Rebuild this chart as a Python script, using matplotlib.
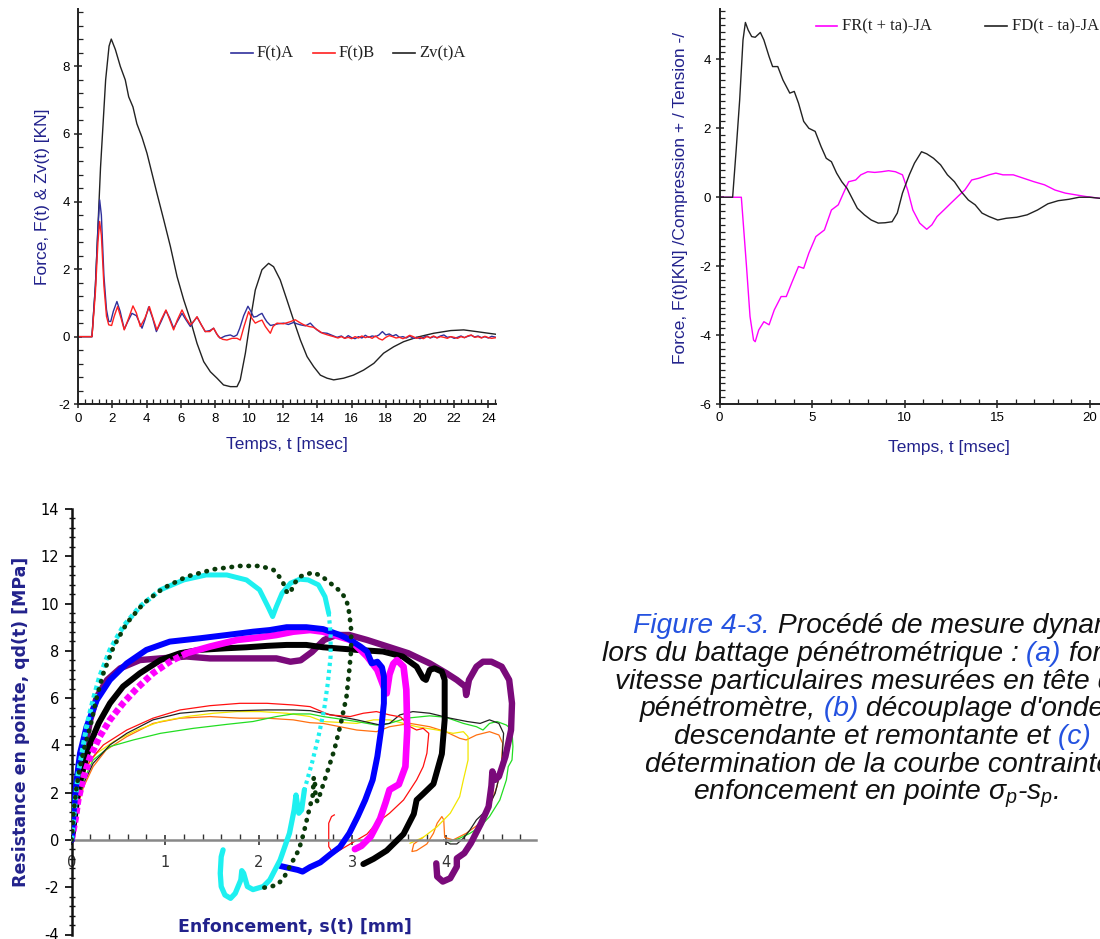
import matplotlib
matplotlib.use("Agg")
import matplotlib.pyplot as plt
from matplotlib.lines import Line2D
from matplotlib.ticker import MultipleLocator

# ---------------- data : panel (a) ----------------
FA = [(0, 0), (0.8, 0), (1.0, 1.5), (1.15, 3.2), (1.25, 4.05), (1.35, 3.6), (1.5, 1.8), (1.65, 0.8),
      (1.78, 0.45), (1.9, 0.45), (2.05, 0.75), (2.26, 1.04), (2.45, 0.75), (2.69, 0.22), (2.9, 0.45),
      (3.14, 0.69), (3.4, 0.62), (3.73, 0.25), (3.9, 0.5), (4.12, 0.88), (4.35, 0.55), (4.57, 0.15),
      (4.85, 0.45), (5.13, 0.77), (5.35, 0.55), (5.58, 0.25), (5.8, 0.45), (6.07, 0.69), (6.3, 0.5),
      (6.56, 0.3), (6.75, 0.45), (6.95, 0.58), (7.2, 0.35), (7.43, 0.15), (7.7, 0.18), (7.92, 0.25),
      (8.1, 0.08), (8.31, -0.05), (8.6, 0.02), (8.9, 0.05), (9.1, 0.0), (9.29, 0.05), (9.45, 0.25),
      (9.68, 0.62), (9.93, 0.9), (10.1, 0.75), (10.26, 0.58), (10.45, 0.6), (10.56, 0.64), (10.75, 0.69),
      (10.9, 0.55), (11.04, 0.44), (11.25, 0.33), (11.43, 0.35), (11.7, 0.38), (12.02, 0.4), (12.3, 0.36),
      (12.6, 0.42), (12.8, 0.38), (13.0, 0.35), (13.3, 0.32), (13.58, 0.4), (13.8, 0.28), (13.97, 0.2),
      (14.2, 0.12), (14.56, 0.1), (14.8, 0.05), (15.14, -0.02), (15.4, 0.02), (15.6, -0.05), (15.8, 0.03),
      (16.0, -0.03), (16.2, -0.06), (16.4, 0.0), (16.6, -0.04), (16.8, 0.04), (17.0, -0.02), (17.2, 0.02),
      (17.4, 0.0), (17.6, 0.05), (17.8, 0.15), (18.0, 0.05), (18.2, 0.08), (18.4, 0.02), (18.6, 0.06),
      (18.8, -0.02), (19.0, 0.0), (19.2, -0.04), (19.4, 0.02), (19.6, -0.05), (19.8, -0.02), (20.0, -0.06),
      (20.2, -0.02), (20.4, 0.02), (20.6, -0.04), (20.8, 0.0), (21.0, -0.03), (21.2, 0.02), (21.4, 0.05),
      (21.6, -0.02), (21.8, 0.0), (22.0, -0.05), (22.2, -0.02), (22.4, 0.02), (22.6, -0.03), (22.8, 0.01),
      (23.0, 0.04), (23.2, -0.01), (23.4, 0.02), (23.6, -0.03), (23.8, 0.0), (24.0, -0.04), (24.2, 0.01),
      (24.45, -0.02)]

FB = [(0, 0), (0.8, 0), (1.0, 1.3), (1.15, 2.8), (1.25, 3.41), (1.35, 3.0), (1.5, 1.5), (1.65, 0.6),
      (1.78, 0.35), (1.95, 0.33), (2.1, 0.6), (2.3, 0.89), (2.5, 0.55), (2.69, 0.2), (2.95, 0.55),
      (3.2, 0.91), (3.4, 0.7), (3.63, 0.3), (3.9, 0.55), (4.16, 0.89), (4.4, 0.5), (4.6, 0.2), (4.85, 0.5),
      (5.13, 0.79), (5.35, 0.5), (5.58, 0.2), (5.8, 0.5), (6.07, 0.79), (6.3, 0.55), (6.56, 0.35),
      (6.75, 0.45), (6.95, 0.59), (7.2, 0.35), (7.43, 0.15), (7.7, 0.15), (7.92, 0.25), (8.2, 0.0),
      (8.45, -0.08), (8.7, -0.1), (9.0, -0.05), (9.29, -0.05), (9.48, -0.1), (9.7, 0.3), (9.97, 0.74),
      (10.15, 0.55), (10.36, 0.4), (10.55, 0.45), (10.75, 0.49), (10.95, 0.3), (11.24, 0.1), (11.4, 0.3),
      (11.63, 0.4), (12.0, 0.38), (12.4, 0.44), (12.7, 0.5), (12.95, 0.42), (13.2, 0.35), (13.5, 0.3),
      (13.75, 0.28), (14.0, 0.2), (14.3, 0.1), (14.6, 0.05), (14.95, 0.0), (15.2, -0.04), (15.4, 0.0),
      (15.6, -0.05), (15.8, -0.02), (16.0, -0.06), (16.2, 0.0), (16.4, -0.04), (16.6, 0.02), (16.8, -0.03),
      (17.0, 0.0), (17.2, -0.05), (17.4, 0.02), (17.6, -0.06), (17.8, -0.1), (18.0, -0.02), (18.2, 0.03),
      (18.4, 0.0), (18.6, -0.04), (18.8, -0.02), (19.0, -0.06), (19.2, -0.02), (19.4, 0.04), (19.6, 0.0),
      (19.8, -0.05), (20.0, -0.02), (20.2, -0.06), (20.4, 0.0), (20.6, -0.03), (20.8, 0.02), (21.0, -0.04),
      (21.2, 0.0), (21.4, -0.02), (21.6, -0.05), (21.8, 0.0), (22.0, -0.02), (22.2, -0.05), (22.4, 0.0),
      (22.6, -0.03), (22.8, 0.02), (23.0, 0.05), (23.2, -0.02), (23.4, 0.0), (23.6, -0.04), (23.8, 0.01),
      (24.0, -0.03), (24.2, -0.05), (24.45, -0.03)]

ZV = [(0, 0), (0.8, 0), (1.0, 1.5), (1.3, 5.0), (1.6, 7.6), (1.8, 8.6), (1.93, 8.81), (2.17, 8.5),
      (2.46, 8.0), (2.75, 7.6), (2.95, 7.1), (3.2, 6.8), (3.43, 6.3), (3.73, 5.9), (4.02, 5.43),
      (4.31, 4.84), (4.6, 4.25), (5.0, 3.46), (5.39, 2.67), (5.78, 1.78), (6.17, 1.09), (6.56, 0.49),
      (6.95, -0.2), (7.34, -0.74), (7.73, -1.04), (8.12, -1.23), (8.5, -1.43), (8.9, -1.48), (9.29, -1.48),
      (9.48, -1.28), (9.78, -0.49), (10.07, 0.49), (10.36, 1.38), (10.75, 1.98), (11.14, 2.17),
      (11.43, 2.07), (11.82, 1.68), (12.21, 1.09), (12.6, 0.49), (13.0, -0.1), (13.39, -0.59),
      (13.78, -0.89), (14.17, -1.14), (14.56, -1.23), (14.95, -1.28), (15.53, -1.23), (16.1, -1.14),
      (16.7, -0.99), (17.3, -0.79), (17.87, -0.49), (18.46, -0.30), (19.04, -0.15), (19.8, -0.02),
      (20.8, 0.1), (21.8, 0.18), (22.56, 0.2), (23.3, 0.15), (24.45, 0.07)]
labels_a = ["F(t)A", "F(t)B", "Zv(t)A"]

# ---------------- data : panel (b) ----------------
FR = [(0, 0), (1.18, 0), (1.46, -2.01), (1.65, -3.46), (1.84, -4.14), (1.93, -4.19), (2.12, -3.85),
      (2.4, -3.61), (2.68, -3.70), (2.96, -3.27), (3.33, -2.88), (3.61, -2.88), (3.9, -2.49), (4.27, -2.01),
      (4.55, -2.06), (4.83, -1.62), (5.21, -1.14), (5.67, -0.95), (6.05, -0.37), (6.42, -0.22), (6.7, 0.12),
      (6.98, 0.45), (7.36, 0.5), (7.64, 0.65), (8.01, 0.74), (8.39, 0.72), (8.76, 0.74), (9.14, 0.77),
      (9.51, 0.74), (9.89, 0.65), (10.17, 0.21), (10.45, -0.37), (10.82, -0.75), (11.2, -0.93),
      (11.48, -0.8), (11.76, -0.56), (12.13, -0.37), (12.51, -0.17), (12.88, 0.02), (13.26, 0.21),
      (13.63, 0.5), (14.01, 0.55), (14.57, 0.65), (14.94, 0.70), (15.32, 0.65), (15.88, 0.65),
      (16.44, 0.55), (17.0, 0.45), (17.57, 0.36), (18.13, 0.21), (18.69, 0.12), (19.25, 0.07),
      (19.81, 0.02), (20.56, -0.03), (21.2, -0.02), (22.0, -0.03)]
FD = [(0, 0), (0.71, 0), (0.9, 1.37), (1.09, 2.82), (1.27, 4.56), (1.40, 5.07), (1.55, 4.85), (1.74, 4.66),
      (1.93, 4.64), (2.21, 4.78), (2.4, 4.56), (2.68, 4.08), (2.87, 3.79), (3.15, 3.79), (3.43, 3.40),
      (3.8, 3.02), (4.04, 3.07), (4.27, 2.73), (4.55, 2.2), (4.83, 2.0), (5.17, 1.91), (5.49, 1.47),
      (5.77, 1.13), (6.05, 1.03), (6.33, 0.70), (6.61, 0.45), (6.89, 0.26), (7.17, -0.03), (7.45, -0.32),
      (7.83, -0.51), (8.2, -0.66), (8.58, -0.75), (8.95, -0.74), (9.33, -0.71), (9.61, -0.46), (9.89, 0.12),
      (10.26, 0.65), (10.54, 0.99), (10.92, 1.32), (11.2, 1.26), (11.57, 1.13), (11.95, 0.94),
      (12.32, 0.65), (12.7, 0.45), (13.07, 0.16), (13.45, -0.08), (13.82, -0.22), (14.19, -0.46),
      (14.57, -0.56), (15.04, -0.66), (15.5, -0.61), (16.07, -0.58), (16.63, -0.51), (17.19, -0.37),
      (17.75, -0.19), (18.31, -0.1), (18.88, -0.06), (19.44, 0), (20.0, 0), (20.56, -0.03), (21.2, -0.02),
      (22.0, -0.03)]
labels_b = ["FR(t + ta)-JA", "FD(t - ta)-JA"]

# ---------------- data : panel (c)  (s [mm], qd [MPa]) ----------------
DGREEN = [(0, 0), (0.02, 1.13), (0.054, 2.26), (0.09, 3.1), (0.14, 3.95), (0.2, 4.8), (0.27, 6.06),
          (0.34, 7.05), (0.45, 8.18), (0.59, 9.17), (0.77, 10.01), (0.98, 10.65), (1.23, 11.14),
          (1.52, 11.45), (1.8, 11.59), (2.02, 11.59), (2.16, 11.42), (2.25, 11.0), (2.3, 10.5),
          (2.34, 10.43), (2.37, 10.79), (2.44, 11.14), (2.55, 11.28), (2.59, 11.31), (2.68, 11.14),
          (2.79, 10.79), (2.88, 10.5), (2.94, 10.15), (2.97, 9.59), (2.99, 8.88), (2.99, 8.04), (2.97, 7.19),
          (2.94, 6.06), (2.88, 4.94), (2.81, 3.81), (2.73, 2.82), (2.66, 1.97), (2.63, 1.62), (2.61, 1.75),
          (2.60, 2.6), (2.59, 2.65), (2.58, 1.9), (2.53, 1.1), (2.48, 0.25), (2.43, -0.42), (2.35, -1.0),
          (2.27, -1.6), (2.2, -1.9), (2.1, -2.0), (2.05, -2.02)]
CYAN = [(0, 0), (0.02, 0.85), (0.04, 1.69), (0.07, 2.82), (0.11, 3.67), (0.16, 4.79), (0.23, 5.92),
        (0.3, 6.91), (0.41, 8.04), (0.55, 9.02), (0.73, 9.87), (0.95, 10.58),
        (1.2, 11.0), (1.44, 11.21), (1.66, 11.21), (1.87, 11.0), (2.01, 10.58), (2.1, 9.87), (2.15, 9.45),
        (2.19, 9.87), (2.25, 10.43), (2.34, 10.86), (2.44, 11.03), (2.53, 11.0), (2.64, 10.79),
        (2.71, 10.29), (2.75, 9.59),
        (2.77, 8.74), (2.77, 7.76), (2.74, 6.63), (2.7, 5.5), (2.64, 4.37), (2.57, 3.24), (2.49, 2.12),
        (2.46, 1.27), (2.43, 1.13), (2.4, 1.9), (2.38, 1.27), (2.33, 0.28), (2.23, -0.85), (2.12, -1.69),
        (2.05, -1.97), (1.94, -2.1), (1.88, -1.97), (1.84, -1.41), (1.82, -1.3), (1.81, -1.69),
        (1.75, -2.26), (1.7, -2.47), (1.64, -2.33), (1.6, -1.97), (1.59, -1.41), (1.6, -0.71), (1.62, -0.42)]
BLUE = [(0, 0), (0.02, 1.13), (0.054, 2.54), (0.09, 3.67), (0.16, 4.79), (0.27, 5.92), (0.41, 6.77),
        (0.59, 7.47), (0.8, 8.04), (1.05, 8.39), (1.37, 8.53), (1.66, 8.67), (1.94, 8.81), (2.12, 8.88),
        (2.3, 9.0), (2.51, 9.0), (2.69, 8.92), (2.87, 8.67), (2.98, 8.46), (3.09, 8.18), (3.16, 7.97),
        (3.21, 7.47), (3.27, 7.54), (3.32, 7.3), (3.34, 6.91), (3.34, 5.78), (3.31, 4.65), (3.27, 3.53),
        (3.22, 2.54), (3.14, 1.69), (3.06, 0.99), (2.97, 0.28), (2.87, -0.3), (2.77, -0.6), (2.66, -0.95),
        (2.55, -1.15), (2.47, -1.34), (2.42, -1.27), (2.34, -1.2), (2.23, -1.1)]
MAGENTA = [(0, 0), (0.04, 0.85), (0.07, 1.69), (0.13, 2.68), (0.2, 3.53), (0.3, 4.37), (0.41, 5.08),
           (0.55, 5.78), (0.7, 6.42), (0.87, 7.05), (1.05, 7.54), (1.23, 7.9),
           (1.48, 8.18), (1.77, 8.46), (2.01, 8.57), (2.19, 8.67), (2.37, 8.81), (2.55, 8.88), (2.69, 8.81),
           (2.98, 8.46), (3.16, 7.76), (3.27, 7.19), (3.35, 6.35), (3.37, 6.2), (3.4, 7.0), (3.44, 7.45),
           (3.48, 7.61), (3.55, 7.33), (3.58, 6.35), (3.59, 4.65), (3.57, 3.1), (3.5, 2.35), (3.4, 2.12),
           (3.36, 1.6), (3.3, 0.9), (3.2, 0.15), (3.1, -0.25), (3.03, -0.39)]
BLACK = [(0, 0), (0.04, 1.13), (0.07, 2.12), (0.13, 3.1), (0.2, 4.09), (0.29, 4.94), (0.41, 5.78),
         (0.55, 6.49), (0.73, 7.05), (0.95, 7.61), (1.16, 7.9), (1.37, 8.04), (1.66, 8.11), (1.87, 8.15),
         (2.09, 8.21), (2.3, 8.25), (2.51, 8.25), (2.69, 8.15), (3.05, 8.04), (3.33, 7.97), (3.54, 7.76),
         (3.69, 7.33), (3.76, 6.84), (3.79, 6.77), (3.83, 7.19), (3.88, 7.26), (3.96, 7.12), (3.99, 6.77),
         (3.99, 5.08), (3.96, 3.64), (3.87, 2.37), (3.76, 1.95), (3.69, 1.69), (3.66, 1.1), (3.55, 0.25),
         (3.37, -0.45), (3.23, -0.8), (3.12, -1.02)]
PURPLE = [(0, 0), (0.04, 1.41), (0.07, 2.54), (0.13, 3.67), (0.2, 5.08), (0.27, 6.06), (0.38, 6.77),
          (0.52, 7.26), (0.73, 7.61), (0.95, 7.68), (1.23, 7.76), (1.48, 7.68), (1.77, 7.68), (2.01, 7.68),
          (2.19, 7.68), (2.34, 7.54), (2.45, 7.6), (2.57, 7.95), (2.7, 8.46), (2.83, 8.67), (2.97, 8.67),
          (3.16, 8.46), (3.38, 8.18), (3.6, 7.9), (3.83, 7.47), (4.01, 7.05), (4.12, 6.77), (4.21, 6.49),
          (4.22, 6.13), (4.25, 6.77), (4.33, 7.33), (4.4, 7.54), (4.49, 7.54), (4.6, 7.33), (4.68, 6.77),
          (4.71, 5.78), (4.7, 4.65), (4.64, 3.53), (4.57, 2.68), (4.53, 2.54), (4.5, 2.9), (4.49, 2.3),
          (4.46, 1.41), (4.38, 0.71), (4.27, -0.14), (4.2, -0.56), (4.12, -0.78), (4.12, -1.13),
          (4.05, -1.62), (3.97, -1.76), (3.91, -1.55), (3.9, -0.99)]
THIN_RED = [(0, 0), (0.02, 1.41), (0.09, 2.54), (0.2, 3.38), (0.34, 4.02), (0.59, 4.65), (0.87, 5.15),
            (1.16, 5.5), (1.48, 5.68), (1.8, 5.78), (2.09, 5.78), (2.37, 5.71), (2.55, 5.64), (2.76, 5.29),
            (2.98, 5.22), (3.12, 5.36), (3.26, 5.43), (3.4, 5.29), (3.52, 5.2), (3.62, 4.79), (3.69, 4.65),
            (3.76, 4.72), (3.82, 4.51), (3.8, 3.67), (3.76, 3.1), (3.69, 2.54), (3.55, 1.69), (3.4, 1.13),
            (3.26, 0.71), (3.16, 0.25), (2.98, -0.17), (2.8, -0.59), (2.75, -0.28), (2.75, 0.71),
            (2.78, 0.99), (2.81, 1.06)]
THIN_BLACK = [(0, 0), (0.05, 1.41), (0.13, 2.4), (0.23, 3.24), (0.41, 4.02), (0.59, 4.51), (0.87, 5.08),
              (1.16, 5.36), (1.48, 5.47), (1.8, 5.47), (2.09, 5.5), (2.37, 5.5), (2.55, 5.47), (2.69, 5.36),
              (3.05, 5.08), (3.3, 4.86), (3.4, 4.93), (3.51, 5.29), (3.65, 5.43), (3.83, 5.36), (4.05, 5.15),
              (4.23, 5.01), (4.37, 4.93), (4.47, 5.08), (4.57, 4.93), (4.62, 4.51), (4.6, 3.1), (4.53, 1.97),
              (4.44, 1.27), (4.33, 0.85), (4.26, 0.42), (4.19, 0.07), (4.12, -0.17), (4.05, -0.17), (3.98, 0.0)]
THIN_YELLOW = [(0, 0), (0.04, 1.27), (0.09, 2.26), (0.16, 3.1), (0.27, 3.67), (0.45, 4.16), (0.7, 4.65),
               (0.95, 5.01), (1.23, 5.22), (1.52, 5.36), (1.77, 5.43), (2.02, 5.43), (2.3, 5.36),
               (2.55, 5.22), (2.69, 5.01), (3.05, 4.93), (3.23, 5.08), (3.4, 5.08), (3.69, 4.79),
               (3.91, 4.65), (4.08, 4.51), (4.19, 4.58), (4.24, 4.37), (4.24, 3.38), (4.19, 2.54),
               (4.15, 1.83), (4.05, 1.13), (3.91, 0.56), (3.76, 0.11), (3.62, -0.14)]
THIN_GREEN = [(0, 0), (0.05, 1.41), (0.13, 2.54), (0.23, 3.38), (0.41, 3.95), (0.66, 4.23), (0.95, 4.51),
              (1.3, 4.72), (1.66, 4.89), (1.94, 5.01), (2.19, 5.22), (2.37, 5.33), (2.55, 5.33), (2.69, 5.22),
              (3.05, 5.01), (3.26, 4.86), (3.4, 4.93), (3.58, 5.15), (3.83, 5.25), (4.0, 5.19), (4.19, 4.93),
              (4.33, 4.79), (4.4, 4.65), (4.47, 4.93), (4.55, 5.01), (4.65, 4.86), (4.71, 4.65), (4.72, 3.95),
              (4.71, 3.38), (4.67, 3.1), (4.65, 2.54), (4.58, 1.69), (4.47, 0.99), (4.37, 0.56), (4.26, 0.28),
              (4.15, 0.07), (4.05, -0.07)]
THIN_ORANGE = [(0, 0), (0.05, 1.27), (0.13, 2.26), (0.23, 3.1), (0.37, 3.81), (0.59, 4.37), (0.87, 4.93),
               (1.16, 5.15), (1.48, 5.22), (1.8, 5.15), (2.09, 5.15), (2.37, 5.08), (2.55, 4.96),
               (2.69, 4.93), (3.05, 4.65), (3.26, 4.58), (3.4, 4.79), (3.62, 4.93), (3.83, 4.79), (4.0, 4.58),
               (4.15, 4.3), (4.22, 4.23), (4.33, 4.44), (4.47, 4.58), (4.57, 4.44), (4.61, 4.09), (4.6, 3.38),
               (4.55, 2.26), (4.47, 1.41), (4.37, 0.71), (4.22, 0.28), (4.08, 0.0), (3.99, 0.11), (3.98, 0.85),
               (3.96, 0.99), (3.91, 0.71), (3.87, 0.28), (3.8, -0.17), (3.69, -0.45), (3.64, -0.49),
               (3.66, -0.17), (3.76, 0.11)]

caption_lines = [
    [("Figure 4-3.", "b"), (" Procédé de mesure dynamique", "k")],
    [("lors du battage pénétrométrique :", "k"), (" (a)", "b"), (" force et", "k")],
    [("vitesse particulaires mesurées en tête du", "k")],
    [("pénétromètre,", "k"), (" (b)", "b"), (" découplage d'ondes", "k")],
    [("descendante et remontante et", "k"), (" (c)", "b")],
    [("détermination de la courbe contrainte-", "k")],
    [("enfoncement en pointe $σ_p$-$s_p$.", "k")],
]

# ---------------- figure ----------------
W, H = 1100, 939
plt.rcParams['axes.unicode_minus'] = False
plt.rcParams['font.family'] = ['Liberation Sans', 'DejaVu Sans']
plt.rcParams['mathtext.fontset'] = 'custom'
plt.rcParams['mathtext.it'] = 'Liberation Sans:italic'
plt.rcParams['mathtext.rm'] = 'Liberation Sans:italic'

NAVY = '#22228c'
fig = plt.figure(figsize=(W / 100, H / 100), dpi=100)


def box(l, t, r, b):
    return [l / W, 1 - b / H, (r - l) / W, (b - t) / H]


def fx(x):
    return x / W


def fy(y):
    return 1 - y / H


def xy(pairs):
    return [p[0] for p in pairs], [p[1] for p in pairs]


def style_top(ax):
    for sp in ['top', 'right']:
        ax.spines[sp].set_visible(False)
    for sp in ['left', 'bottom']:
        ax.spines[sp].set_linewidth(1.4)
        ax.spines[sp].set_color('#222222')
    ax.tick_params(which='major', direction='inout', length=6, width=1.1, labelsize=9.5, pad=3,
                   color='#222222')
    ax.tick_params(which='minor', direction='in', length=3.5, width=0.9, color='#222222')
    ax.set_facecolor('none')


# ---- panel (a)
ax1 = fig.add_axes(box(78.3, 9, 496, 404.2))
style_top(ax1)
ax1.set_xlim(0, 24.45)
ax1.set_ylim(-2, 9.7)
ax1.xaxis.set_major_locator(MultipleLocator(2))
ax1.xaxis.set_minor_locator(MultipleLocator(0.4))
ax1.yaxis.set_major_locator(MultipleLocator(2))
ax1.yaxis.set_minor_locator(MultipleLocator(0.4))
cols_a = ['#30309c', '#ff2020', '#222222']
for series, c in zip([ZV, FA, FB], [cols_a[2], cols_a[0], cols_a[1]]):
    x, y = xy(series)
    ax1.plot(x, y, color=c, lw=1.0)
fig.text(fx(43), fy(197), "Force, F(t) & Zv(t) [KN]", rotation=90, ha='center', va='center',
         color=NAVY, fontsize=12.5)
fig.text(fx(287), fy(445), "Temps, t [msec]", ha='center', va='center', color=NAVY, fontsize=12.5)
leg_a = [(230.7, 252.7, 257), (313, 335, 339), (393, 415, 419)]
for (x0, x1, xt), lab, c in zip(leg_a, labels_a, cols_a):
    fig.add_artist(Line2D([fx(x0), fx(x1)], [fy(53), fy(53)], color=c, lw=1.2))
    fig.text(fx(xt), fy(53.5), lab, ha='left', va='center', family='Liberation Serif',
             fontsize=12, color='#222222')

# ---- panel (b)
ax2 = fig.add_axes(box(719.5, 9, 719.5 + 25 * 18.5, 404.1))
style_top(ax2)
ax2.set_xlim(0, 25)
ax2.set_ylim(-6, 5.46)
ax2.xaxis.set_major_locator(MultipleLocator(5))
ax2.xaxis.set_minor_locator(MultipleLocator(1))
ax2.yaxis.set_major_locator(MultipleLocator(2))
ax2.yaxis.set_minor_locator(MultipleLocator(0.2))
cols_b = ['#ff00ff', '#222222']
for series, c in zip([FR, FD], cols_b):
    x, y = xy(series)
    ax2.plot(x, y, color=c, lw=1.0)
fig.text(fx(680), fy(198), "Force, F(t)[KN] /Compression + / Tension -/", rotation=90, ha='center',
         va='center', color=NAVY, fontsize=12.5)
fig.text(fx(948.5), fy(447), "Temps, t [msec]", ha='center', va='center', color=NAVY, fontsize=12.5)
leg_b = [(815.7, 836.7, 842), (985, 1007, 1012)]
for (x0, x1, xt), lab, c in zip(leg_b, labels_b, cols_b):
    fig.add_artist(Line2D([fx(x0), fx(x1)], [fy(25.5), fy(25.5)], color=c, lw=1.2))
    fig.text(fx(xt), fy(26), lab, ha='left', va='center', family='Liberation Serif',
             fontsize=12, color='#222222')

# ---- panel (c)
ax3 = fig.add_axes(box(71.6, 509, 536.3, 934.5))
ax3.set_xlim(0, 4.97)
ax3.set_ylim(-4, 14)
ax3.set_facecolor('none')
for sp in ['top', 'right']:
    ax3.spines[sp].set_visible(False)
ax3.spines['bottom'].set_position(('data', 0))
ax3.spines['bottom'].set_color('#888888')
ax3.spines['bottom'].set_linewidth(1.8)
ax3.spines['left'].set_color('#111111')
ax3.spines['left'].set_linewidth(1.8)
ax3.xaxis.set_major_locator(MultipleLocator(1))
ax3.xaxis.set_minor_locator(MultipleLocator(0.2))
ax3.yaxis.set_major_locator(MultipleLocator(2))
ax3.yaxis.set_minor_locator(MultipleLocator(0.4))
ax3.tick_params(axis='x', which='major', direction='inout', length=7, width=1.2, color='#333333',
                labelsize=10.5, pad=7, labelcolor='#333333')
ax3.tick_params(axis='x', which='minor', direction='in', length=4, width=1.0, color='#333333')
ax3.tick_params(axis='y', which='major', direction='out', length=5, width=1.3, color='#111111',
                labelsize=10.5, pad=4)
ax3.tick_params(axis='y', which='minor', direction='inout', length=4, width=1.0, color='#111111')
for lab in ax3.get_xticklabels() + ax3.get_yticklabels():
    lab.set_family('DejaVu Sans')

thin = [(THIN_ORANGE, '#ff7010'), (THIN_YELLOW, '#f2e600'), (THIN_GREEN, '#22dd22'),
        (THIN_BLACK, '#222222'), (THIN_RED, '#ff1010')]
for series, c in thin:
    x, y = xy(series)
    ax3.plot(x, y, color=c, lw=0.9, zorder=2)

x, y = xy(PURPLE)
ax3.plot(x, y, color='#7a0a7a', lw=4.6, solid_capstyle='round', solid_joinstyle='round', zorder=3)
x, y = xy(BLACK)
ax3.plot(x, y, color='#000000', lw=4.3, solid_capstyle='round', solid_joinstyle='round', zorder=4)
x, y = xy(MAGENTA)
ax3.plot(x[:12], y[:12], color='#ff00ff', lw=4.8, ls=(0, (0.9, 0.45)), zorder=5)
ax3.plot(x[11:], y[11:], color='#ff00ff', lw=4.8, solid_capstyle='round', solid_joinstyle='round',
         zorder=5)
x, y = xy(BLUE)
ax3.plot(x, y, color='#0000ff', lw=4.3, solid_capstyle='round', solid_joinstyle='round', zorder=6)
x, y = xy(CYAN)
ax3.plot(x[:12], y[:12], color='#1ef0f0', lw=3.6, ls=(0, (0.9, 0.7)), zorder=7)
ax3.plot(x[11:27], y[11:27], color='#1ef0f0', lw=3.6, solid_capstyle='round', solid_joinstyle='round',
         zorder=7)
ax3.plot(x[26:34], y[26:34], color='#1ef0f0', lw=3.0, ls=(0, (0.8, 0.9)), zorder=7)
ax3.plot(x[33:], y[33:], color='#1ef0f0', lw=3.8, solid_capstyle='round', solid_joinstyle='round',
         zorder=7)
x, y = xy(DGREEN)
ax3.plot(x, y, color='#0a3a0a', lw=3.4, ls=(0, (0.1, 1.7)), dash_capstyle='round', zorder=8)

fig.text(fx(21.5), fy(722), "Resistance en pointe, qd(t) [MPa]", rotation=90, ha='center',
         va='center', color=NAVY, fontsize=12.5, fontweight='bold', family='DejaVu Sans')
fig.text(fx(295), fy(927), "Enfoncement, s(t) [mm]", ha='center', va='center', color=NAVY,
         fontsize=12.5, fontweight='bold', family='DejaVu Sans')

# ---- caption
renderer = fig.canvas.get_renderer()
cap_colors = {"b": '#2452e0', "k": '#111111'}
starts = [633, 601.5, 615, 640, 674, 645, 693]
for i, segs in enumerate(caption_lines):
    xpix = starts[i]
    ypix = 633 + i * 27.8
    for txt, ck in segs:
        t = fig.text(fx(xpix), fy(ypix), txt, color=cap_colors[ck], fontsize=20.3, fontstyle='italic',
                     family='Liberation Sans', ha='left', va='baseline')
        bb = t.get_window_extent(renderer)
        xpix = bb.x1

fig.savefig("out.png", dpi=100)
